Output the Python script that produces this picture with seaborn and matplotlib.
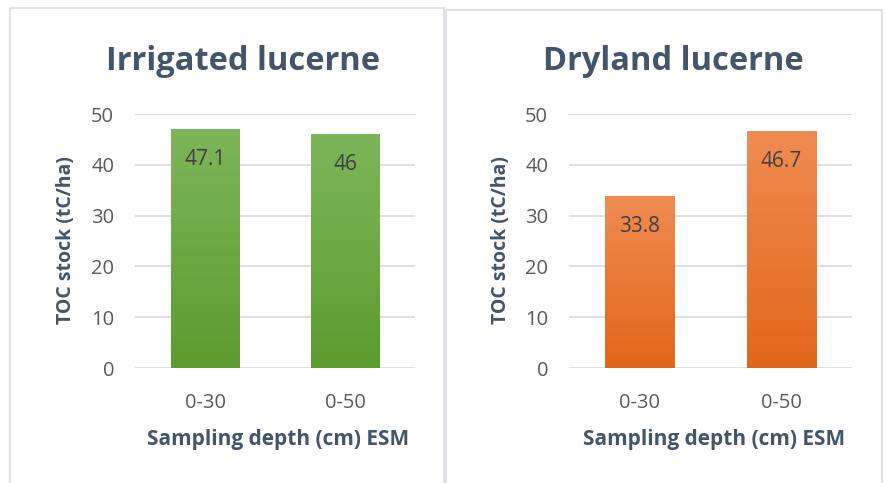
import numpy as np
import pandas as pd
import matplotlib
matplotlib.use("Agg")
import matplotlib.pyplot as plt
from matplotlib.patches import Rectangle
from matplotlib.colors import LinearSegmentedColormap
import seaborn as sns

depths = ["0-30", "0-50"]
irrigated = [47.1, 46.0]
dryland = [33.8, 46.7]
value_labels_irrigated = ["47.1", "46"]
value_labels_dryland = ["33.8", "46.7"]
titles = ["Irrigated lucerne", "Dryland lucerne"]
y_ticks = [0, 10, 20, 30, 40, 50]

sns.set_theme(style="white")
plt.rcParams["font.family"] = ["Open Sans", "DejaVu Sans"]

fig = plt.figure(figsize=(8.85, 4.83), dpi=100)
fig.patch.set_facecolor("white")

# panel frames (open at the bottom edge)
for x0, y0, w in [(10, 8, 434), (446, 10, 436)]:
    fig.patches.append(Rectangle((x0 / 885, -0.05), w / 885, 1.05 - y0 / 483,
                                 transform=fig.transFigure, fill=False,
                                 edgecolor="#d9dde3", linewidth=1.2))

title_color = "#44546A"
tick_color = "#595959"

panels = [
    dict(vals=irrigated, labels=value_labels_irrigated, title=titles[0],
         left=135, right=415, title_x=243, xlabel_x=278, ylabel_x=66,
         top_col="#7db65a", bot_col="#5c9c2e"),
    dict(vals=dryland, labels=value_labels_dryland, title=titles[1],
         left=569, right=852, title_x=673, xlabel_x=714, ylabel_x=501,
         top_col="#f08c52", bot_col="#e2661a"),
]

for p in panels:
    ax = fig.add_axes([p["left"] / 885, 1 - 368 / 483,
                       (p["right"] - p["left"]) / 885, (368 - 114) / 483])
    df = pd.DataFrame({"depth": depths, "toc": p["vals"]})
    sns.barplot(data=df, x="depth", y="toc", ax=ax, color=p["bot_col"],
                width=0.49, saturation=1, zorder=3)
    ax.set_ylim(0, 50)
    ax.set_yticks(y_ticks)
    ax.yaxis.grid(True, color="#d9dce3", linewidth=1.3, zorder=0)
    ax.set_axisbelow(True)
    for s in ax.spines.values():
        s.set_visible(False)
    ax.tick_params(axis="both", length=0, labelsize=14.5, labelcolor=tick_color)
    ax.tick_params(axis="y", pad=15)
    ax.tick_params(axis="x", pad=18)
    ax.set_xlabel("")
    ax.set_ylabel("")

    cmap = LinearSegmentedColormap.from_list("g", [p["bot_col"], p["top_col"]])
    grad = np.linspace(0, 1, 256).reshape(-1, 1)
    for bar, lab in zip(ax.patches, p["labels"]):
        x0, w, h = bar.get_x(), bar.get_width(), bar.get_height()
        bar.set_facecolor("none")
        bar.set_edgecolor("none")
        im = ax.imshow(grad, cmap=cmap, origin="lower", aspect="auto",
                       extent=[x0, x0 + w, 0, h], zorder=3)
        im.set_clip_path(bar)
        ax.text(x0 + w / 2, h - 6.0, lab, ha="center", va="center",
                fontsize=15, color="#404040", zorder=5)
    ax.set_xlim(-0.5, 1.5)

    fig.text(p["title_x"] / 885, 1 - 61 / 483, p["title"], ha="center",
             va="center", fontsize=23.5, fontweight="bold", color=title_color)
    fig.text(p["xlabel_x"] / 885, 1 - 440 / 483, "Sampling depth (cm) ESM",
             ha="center", va="center", fontsize=15, fontweight="bold",
             color=title_color)
    fig.text(p["ylabel_x"] / 885, 1 - 240 / 483, "TOC stock (tC/ha)",
             ha="center", va="center", rotation=90, fontsize=14,
             fontweight="bold", color=title_color)

fig.savefig("out.png", dpi=100, facecolor="white")
